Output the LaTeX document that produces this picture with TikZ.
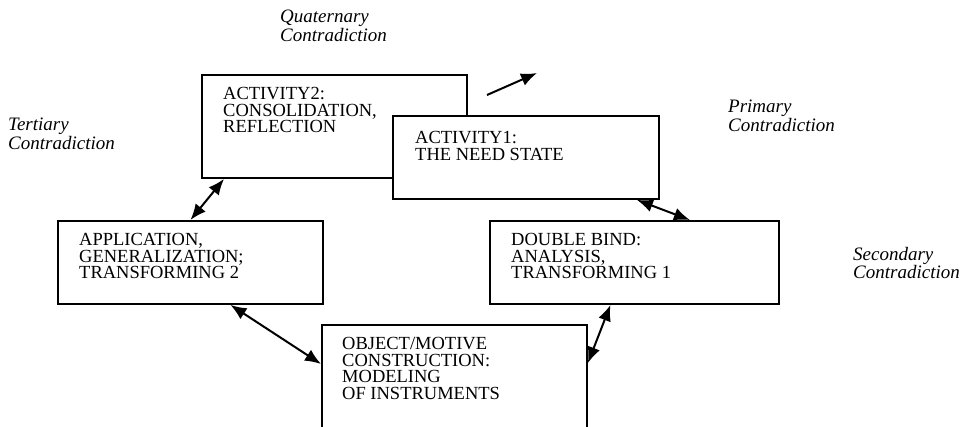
\documentclass[tikz,border=0pt]{standalone}
\usepackage{fontspec}
\setmainfont{Liberation Serif}
\usepackage{tikz}
\usetikzlibrary{arrows.meta, positioning}

\tikzset{
    >={Latex[length=16pt,width=13pt]},
    box/.style={draw, rectangle, line width=1.9pt, fill=white, anchor=north west, inner sep=0pt},
    boxtext/.style={align=left, inner sep=0pt, anchor=north west, font=\fontsize{18.5}{16.7}\selectfont},
    contra/.style={align=left, inner sep=0pt, anchor=north west, font=\itshape\fontsize{19}{16.5}\selectfont},
    link/.style={<->, line width=2pt}
}

\begin{document}
\begin{tikzpicture}[x=1pt, y=1pt]
    \useasboundingbox (0,0) rectangle (971,-426);
    % 矛盾标签
    \node[contra] (quat) at (280,-10) {Quaternary\\Contradiction};
    \node[contra] (tert) at (8,-118) {Tertiary\\Contradiction};
    \node[contra] (prim) at (728,-100) {Primary\\Contradiction};
    \node[contra] (seco) at (853,-247) {Secondary\\Contradiction};
    % 方框
    \node[box, minimum width=265pt, minimum height=103pt] (act2) at (201,-74) {};
    \node[boxtext] (act2txt) at ([shift={(22,-13)}]act2.north west) {ACTIVITY2:\\CONSOLIDATION,\\REFLECTION};
    \node[box, minimum width=266pt, minimum height=83pt] (act1) at (392,-115) {};
    \node[boxtext] (act1txt) at ([shift={(23,-16)}]act1.north west) {ACTIVITY1:\\THE NEED STATE};
    \node[box, minimum width=265pt, minimum height=83pt] (app) at (57,-220) {};
    \node[boxtext] (apptxt) at ([shift={(22,-13)}]app.north west) {APPLICATION,\\GENERALIZATION;\\TRANSFORMING 2};
    \node[box, minimum width=289pt, minimum height=83pt] (dbind) at (489,-220) {};
    \node[boxtext] (dbindtxt) at ([shift={(22,-13)}]dbind.north west) {DOUBLE BIND:\\ANALYSIS,\\TRANSFORMING 1};
    \node[box, minimum width=265pt, minimum height=120pt] (obj) at (321,-324) {};
    \node[boxtext] (objtxt) at ([shift={(21,-13)}]obj.north west) {OBJECT/MOTIVE\\CONSTRUCTION:\\MODELING\\OF INSTRUMENTS};
    % 双向箭头
    \draw[link] (app.north) -- ([xshift=23pt]act2.south west);
    \draw[link] ([xshift=40pt]app.south) -- ([yshift=-40pt]obj.north west);
    \draw[link] ([xshift=-23pt]act1.south east) -- ([xshift=-90pt]dbind.north east);
    \draw[link] ([xshift=-24pt]dbind.south) -- ([yshift=-39pt]obj.north east);
    % 上方箭头
    \coordinate (up1) at (487,-95);
    \coordinate (up2) at (537,-73);
    \draw[->, line width=2pt] (up1) -- (up2);
\end{tikzpicture}
\end{document}
